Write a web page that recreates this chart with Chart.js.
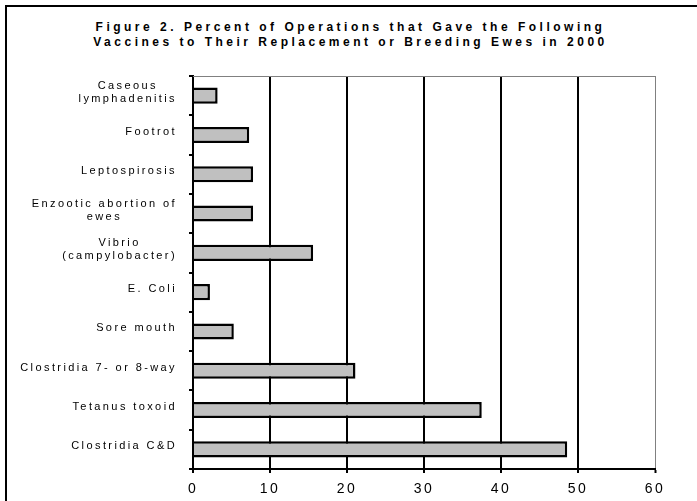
<!DOCTYPE html>
<html>
<head>
<meta charset="utf-8">
<script src="https://cdn.jsdelivr.net/npm/chart.js@4.4.1/dist/chart.umd.min.js"></script>
<style>
  html, body { margin: 0; padding: 0; background: #fff; }
  #wrap { position: relative; width: 697px; height: 501px; overflow: hidden; }
  #frame { position: absolute; left: 5px; top: 5px; width: 720px; height: 600px; border-left: 2px solid #000; border-top: 2px solid #000; }
  #title { position: absolute; left: 2px; top: 20px; width: 697px; text-align: center; font: bold 12px/15px "Liberation Sans", Arial, sans-serif; letter-spacing: 3.5px; color: #000; }
  canvas { position: absolute; left: 0; top: 0; }
</style>
</head>
<body>
<div id="wrap">
  <div id="frame"></div>
  <div id="title">Figure 2. Percent of Operations that Gave the Following<br>Vaccines to Their Replacement or Breeding Ewes in 2000</div>
  <canvas id="chart" width="697" height="501"></canvas>
</div>
<script>
const categories = [
    ["Caseous", "lymphadenitis"],
    "Footrot",
    "Leptospirosis",
    ["Enzootic abortion of", "ewes"],
    ["Vibrio", "(campylobacter)"],
    "E. Coli",
    "Sore mouth",
    "Clostridia 7- or 8-way",
    "Tetanus toxoid",
    "Clostridia C&D"
];
const percentOperations = [3.2, 7.3, 7.8, 7.8, 15.6, 2.2, 5.3, 21.1, 37.5, 48.6];
const xMin = 0;
const xMax = 60;
const xStep = 10;

const font = '"Liberation Sans", Arial, sans-serif';

// letter spaced text, like the original
const spacingPlugin = {
    id: "spacing",
    beforeDraw(chart) {
        chart.ctx.letterSpacing = "2.4px";
    }
};

// y labels: block right aligned, lines centred inside the block
const yLabelPlugin = {
    id: "yLabels",
    afterDraw(chart) {
        const ctx = chart.ctx;
        const yScale = chart.scales.y;
        const right = yScale.right - 16;
        const lineH = 13.2;
        ctx.save();
        ctx.font = "11px " + font;
        ctx.letterSpacing = "2.4px";
        ctx.fillStyle = "#000";
        ctx.textAlign = "center";
        ctx.textBaseline = "middle";
        categories.forEach((label, i) => {
            const lines = Array.isArray(label) ? label : [label];
            const w = Math.max(...lines.map(l => ctx.measureText(l).width));
            const cy = yScale.getPixelForValue(i) - 3;
            lines.forEach((line, j) => {
                ctx.fillText(line, right - w / 2, cy + (j - (lines.length - 1) / 2) * lineH);
            });
        });
        ctx.restore();
    }
};

// grey top edge of the plot area
const frameTopPlugin = {
    id: "frameTop",
    afterDraw(chart) {
        const ctx = chart.ctx;
        const a = chart.chartArea;
        ctx.save();
        ctx.strokeStyle = "#808080";
        ctx.lineWidth = 1;
        ctx.beginPath();
        ctx.moveTo(a.left, a.top + 0.5);
        ctx.lineTo(a.right + 0.5, a.top + 0.5);
        ctx.stroke();
        ctx.restore();
    }
};

new Chart(document.getElementById("chart"), {
    type: "bar",
    data: {
        labels: categories,
        datasets: [{
            data: percentOperations,
            backgroundColor: "#c0c0c0",
            borderColor: "#000",
            borderWidth: 2.5,
            barPercentage: 0.41,
            categoryPercentage: 1
        }]
    },
    plugins: [spacingPlugin, yLabelPlugin, frameTopPlugin],
    options: {
        indexAxis: "y",
        responsive: false,
        animation: false,
        devicePixelRatio: 1,
        layout: { padding: { left: 0, right: 42, top: 76, bottom: 0 } },
        plugins: {
            legend: { display: false },
            tooltip: { enabled: false },
            title: { display: false }
        },
        scales: {
            x: {
                min: xMin,
                max: xMax,
                ticks: {
                    stepSize: xStep,
                    color: "#000",
                    font: { family: font, size: 14 },
                    padding: 8,
                    maxRotation: 0
                },
                grid: {
                    color: c => c.tick && c.tick.value === xMax ? "#808080" : "#000",
                    lineWidth: c => c.tick && c.tick.value === xMax ? 1 : 2,
                    tickColor: "#000",
                    tickWidth: 2,
                    tickLength: 4
                },
                border: { display: true, color: "#000", width: 2 },
                afterFit: s => { s.height = 32; }
            },
            y: {
                ticks: { display: false },
                grid: {
                    offset: true,
                    drawOnChartArea: false,
                    drawTicks: true,
                    tickLength: 4,
                    color: "#000",
                    lineWidth: 2
                },
                border: { display: true, color: "#000", width: 2 },
                afterFit: s => { s.width = 193; }
            }
        }
    }
});
</script>
</body>
</html>
